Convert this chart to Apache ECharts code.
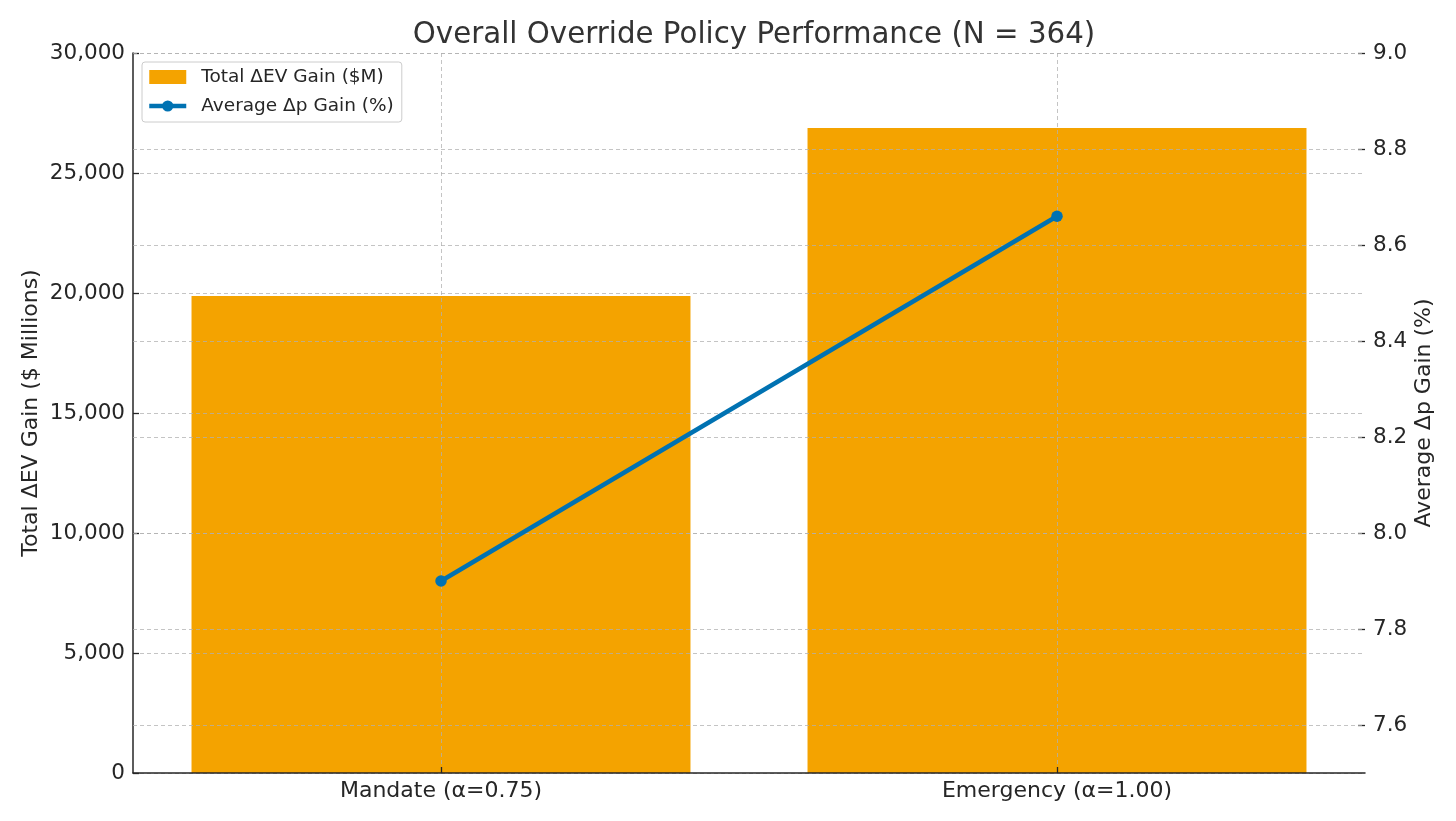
<!DOCTYPE html>
<html>
<head>
<meta charset="utf-8">
<script src="https://cdn.jsdelivr.net/npm/echarts@6/dist/echarts.min.js"></script>
<style>
html,body{margin:0;padding:0;background:#fff;}
#chart{width:1456px;height:821px;}
</style>
</head>
<body>
<div id="chart"></div>
<script>
const categories = ['Mandate (α=0.75)', 'Emergency (α=1.00)'];
const totalEvGain = [19880, 26880];
const avgDpGain = [7.90, 8.66];
const leftTicks = [0, 5000, 10000, 15000, 20000, 25000, 30000];
const rightTicks = [7.6, 7.8, 8.0, 8.2, 8.4, 8.6, 8.8, 9.0];

const FONT = 'DejaVu Sans';
const TXT = '#262626';
const GRID = 'rgba(176,176,176,0.75)';
const BLUE = '#0072B2';

const chart = echarts.init(document.getElementById('chart'), null, {renderer: 'canvas'});
chart.setOption({
  backgroundColor: '#ffffff',
  animation: false,
  textStyle: {fontFamily: FONT},
  title: {
    text: 'Overall Override Policy Performance (N = 364)',
    left: 749, top: 16, textAlign: 'center',
    textStyle: {fontFamily: FONT, fontSize: 29.3, fontWeight: 'normal', color: '#333333'}
  },
  legend: {
    orient: 'vertical', left: 142, top: 62,
    padding: [5, 8, 6, 5], itemGap: 9, itemWidth: 37, itemHeight: 14,
    borderColor: '#cccccc', borderWidth: 1, borderRadius: 3,
    backgroundColor: 'rgba(255,255,255,0.8)',
    textStyle: {fontFamily: FONT, fontSize: 18.5, color: TXT, lineHeight: 20, padding: [0, 0, 0, 10]},
    data: [
      {name: 'Total ΔEV Gain ($M)', icon: 'rect'},
      {name: 'Average Δp Gain (%)', lineStyle: {width: 4.5, color: BLUE}}
    ]
  },
  grid: {left: 133, right: 91, top: 53, bottom: 48},
  xAxis: {
    type: 'category', data: categories, z: 3,
    axisLine: {show: true, lineStyle: {color: TXT, width: 1.5}},
    axisTick: {show: true, inside: true, length: 6, alignWithLabel: true, lineStyle: {color: TXT, width: 1.3}},
    axisLabel: {fontFamily: FONT, fontSize: 22, color: TXT, margin: 7},
    splitLine: {show: true, alignWithLabel: true, lineStyle: {color: GRID, type: [4, 3], width: 1}}
  },
  yAxis: [
    {
      type: 'value', min: 0, max: 30000, interval: 5000, z: 3,
      name: 'Total ΔEV Gain ($ Millions)', nameLocation: 'middle', nameRotate: 90, nameGap: 91,
      nameMoveOverlap: false,
      nameTextStyle: {fontFamily: FONT, fontSize: 22, color: TXT},
      axisLine: {show: true, lineStyle: {color: TXT, width: 1.5}},
      axisTick: {show: true, inside: true, length: 6, lineStyle: {color: TXT, width: 1.3}},
      axisLabel: {fontFamily: FONT, fontSize: 21.5, color: TXT, margin: 8,
        formatter: v => v.toLocaleString('en-US')},
      splitLine: {show: true, lineStyle: {color: GRID, type: [4, 3], width: 1}}
    },
    {
      type: 'value', min: 7.5, max: 9.0, position: 'right', z: 3,
      name: 'Average Δp Gain (%)', nameLocation: 'middle', nameRotate: 90, nameGap: 48,
      nameMoveOverlap: false,
      nameTextStyle: {fontFamily: FONT, fontSize: 22, color: TXT},
      axisLine: {show: false},
      axisTick: {show: true, inside: true, length: 7, customValues: rightTicks, lineStyle: {color: TXT, width: 1.3}},
      axisLabel: {fontFamily: FONT, fontSize: 21.5, color: TXT, margin: 8, customValues: rightTicks,
        formatter: v => Number(v).toFixed(1)},
      splitLine: {show: false}
    }
  ],
  series: [
    {
      name: 'Total ΔEV Gain ($M)', type: 'bar', yAxisIndex: 0, z: 2,
      data: totalEvGain, barWidth: '81%',
      itemStyle: {color: '#F4A300'}
    },
    {
      name: '__grid', type: 'line', yAxisIndex: 1, z: 3, data: [],
      markLine: {
        silent: true, symbol: ['none', 'none'], label: {show: false},
        lineStyle: {color: GRID, type: [4, 3], width: 1},
        emphasis: {disabled: true},
        data: rightTicks.map(v => ({yAxis: v}))
      }
    },
    {
      name: 'Average Δp Gain (%)', type: 'line', yAxisIndex: 1, z: 10,
      data: avgDpGain, symbol: 'circle', symbolSize: 11.5,
      lineStyle: {color: BLUE, width: 4.5},
      itemStyle: {color: BLUE}
    }
  ]
});
</script>
</body>
</html>
